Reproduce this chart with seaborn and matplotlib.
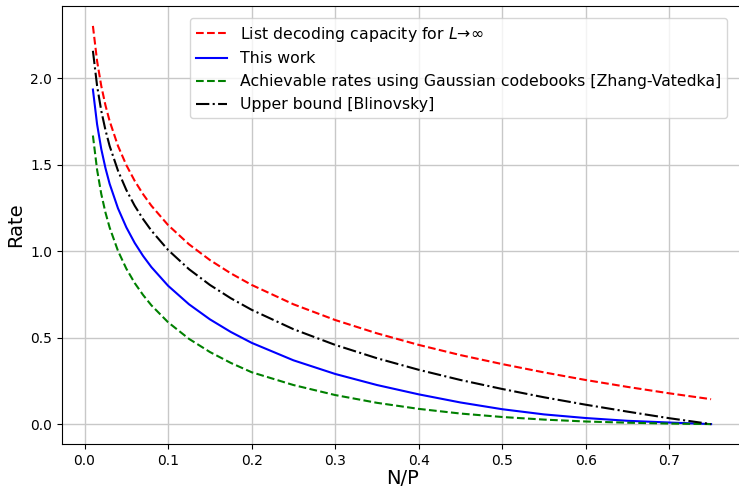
import pandas as pd
import matplotlib
matplotlib.use("Agg")
import matplotlib.pyplot as plt
import seaborn as sns

# ============================================================================
# DATA
# ============================================================================

np_ratio = [0.01, 0.015, 0.02, 0.025, 0.03, 0.04, 0.05, 0.06, 0.07, 0.08,
            0.10, 0.125, 0.15, 0.175, 0.20, 0.25, 0.30, 0.35, 0.40, 0.45,
            0.50, 0.55, 0.60, 0.65, 0.70, 0.75]

list_capacity = [2.303, 2.100, 1.956, 1.844, 1.753, 1.609, 1.498, 1.407, 1.330, 1.263,
                 1.151, 1.040, 0.949, 0.872, 0.805, 0.693, 0.602, 0.525, 0.458, 0.399,
                 0.347, 0.299, 0.255, 0.215, 0.178, 0.144]

this_work = [1.935, 1.734, 1.591, 1.481, 1.390, 1.248, 1.138, 1.048, 0.973, 0.908,
             0.800, 0.693, 0.606, 0.533, 0.470, 0.369, 0.290, 0.226, 0.172, 0.125,
             0.086, 0.056, 0.035, 0.019, 0.009, 0.000]

gaussian_zv = [1.669, 1.471, 1.331, 1.224, 1.137, 1.002, 0.899, 0.816, 0.747, 0.687,
               0.589, 0.493, 0.417, 0.354, 0.300, 0.226, 0.168, 0.123, 0.088, 0.061,
               0.041, 0.026, 0.015, 0.008, 0.003, 0.000]

upper_blinovsky = [2.159, 1.956, 1.812, 1.701, 1.609, 1.466, 1.354, 1.263, 1.186, 1.119,
                   1.007, 0.896, 0.805, 0.728, 0.661, 0.549, 0.458, 0.381, 0.314, 0.255,
                   0.203, 0.155, 0.112, 0.072, 0.034, 0.000]

series = [
    (r"List decoding capacity for $L$→∞", list_capacity, "r", "--"),
    ("This work", this_work, "b", "-"),
    ("Achievable rates using Gaussian codebooks [Zhang-Vatedka]", gaussian_zv, "g", "--"),
    ("Upper bound [Blinovsky]", upper_blinovsky, "k", "-."),
]

# ============================================================================
# PLOT
# ============================================================================

fig = plt.figure(figsize=(7.39, 4.88), dpi=100)
ax = fig.add_axes([62 / 739, 1 - 444 / 488, (742 - 62) / 739, (444 - 6) / 488])

for label, values, color, ls in series:
    df = pd.DataFrame({"N/P": np_ratio, "Rate": values})
    sns.lineplot(data=df, x="N/P", y="Rate", color=color, linestyle=ls,
                 linewidth=1.5, label=label, ax=ax)

ax.grid(True, color="#c8c8c8", linewidth=1.0)
ax.set_axisbelow(True)
ax.set_xticks([0.0, 0.1, 0.2, 0.3, 0.4, 0.5, 0.6, 0.7])
ax.set_yticks([0.0, 0.5, 1.0, 1.5, 2.0])
ax.tick_params(axis="both", labelsize=10)
ax.set_xlabel("N/P", fontsize=14, labelpad=1)
ax.set_ylabel("Rate", fontsize=14)
ax.legend(loc="upper right", fontsize=11.3, bbox_to_anchor=(0.99, 0.99))

fig.savefig("out.png", dpi=100)
